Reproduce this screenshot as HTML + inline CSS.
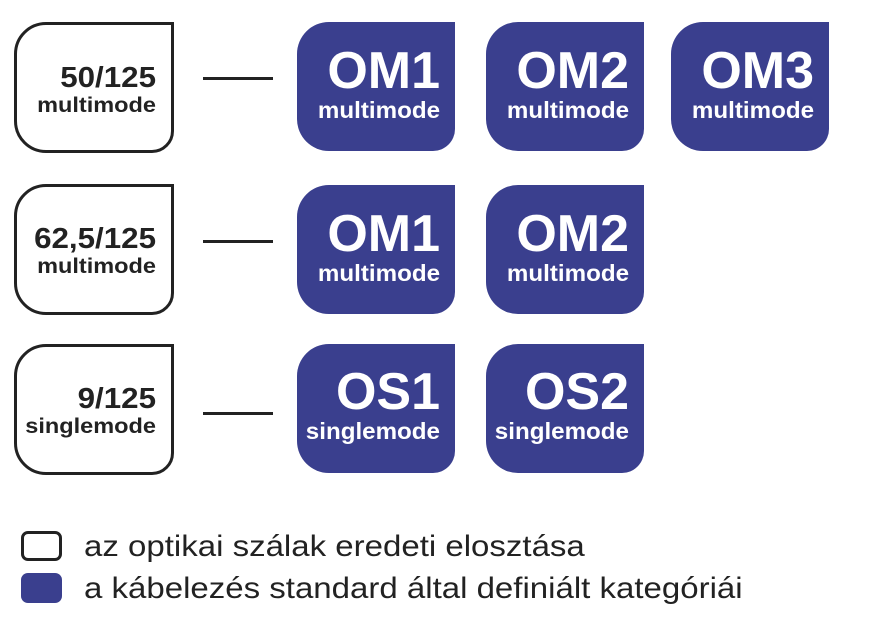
<!DOCTYPE html>
<html><head><style>
body{margin:0;width:876px;height:639px;background:#fff;position:relative;overflow:hidden;font-family:"Liberation Sans",Arial,sans-serif;}
.b{position:absolute;box-sizing:border-box;border-radius:32px 0 22px 32px;text-align:right;font-weight:bold;}
.w{border:3px solid #222;color:#222;width:160px;height:131px;left:14px;padding-right:15px;}
.w .t{font-size:29px;line-height:29px;transform:scaleX(1.08);transform-origin:right;}
.w .s{font-size:21px;line-height:26px;transform:scaleX(1.12);transform-origin:right;}
.u{background:#3a3f8e;color:#fff;width:158px;height:129px;padding-right:15px;}
.u .t{font-size:52px;line-height:52px;}
.u .s{font-size:23px;line-height:26px;transform:scaleX(1.05);transform-origin:right;}
.l{position:absolute;left:203px;width:70px;height:3px;background:#222;}
.g{position:absolute;left:84px;font-size:30px;color:#222;white-space:nowrap;transform:scaleX(1.1);transform-origin:left;}
</style></head><body>
<div class="b w" style="top:22px;padding-top:39px"><div class="t">50/125</div><div class="s">multimode</div></div>
<div class="b w" style="top:184px;padding-top:38px"><div class="t">62,5/125</div><div class="s">multimode</div></div>
<div class="b w" style="top:344px;padding-top:38px"><div class="t">9/125</div><div class="s">singlemode</div></div>
<div class="l" style="top:77px"></div>
<div class="l" style="top:240px"></div>
<div class="l" style="top:412px"></div>
<div class="b u" style="left:297px;top:22px;padding-top:23px"><div class="t">OM1</div><div class="s">multimode</div></div>
<div class="b u" style="left:486px;top:22px;padding-top:23px"><div class="t">OM2</div><div class="s">multimode</div></div>
<div class="b u" style="left:671px;top:22px;padding-top:23px"><div class="t">OM3</div><div class="s">multimode</div></div>
<div class="b u" style="left:297px;top:185px;padding-top:23px"><div class="t">OM1</div><div class="s">multimode</div></div>
<div class="b u" style="left:486px;top:185px;padding-top:23px"><div class="t">OM2</div><div class="s">multimode</div></div>
<div class="b u" style="left:297px;top:344px;padding-top:22px"><div class="t">OS1</div><div class="s">singlemode</div></div>
<div class="b u" style="left:486px;top:344px;padding-top:22px"><div class="t">OS2</div><div class="s">singlemode</div></div>
<div style="position:absolute;left:21px;top:531px;width:41px;height:30px;box-sizing:border-box;border:3.5px solid #222;border-radius:7px"></div>
<div style="position:absolute;left:21px;top:573px;width:41px;height:30px;background:#3a3f8e;border-radius:7px"></div>
<div class="g" style="top:530px">az optikai szálak eredeti elosztása</div>
<div class="g" style="top:572px">a kábelezés standard által definiált kategóriái</div>
</body></html>
